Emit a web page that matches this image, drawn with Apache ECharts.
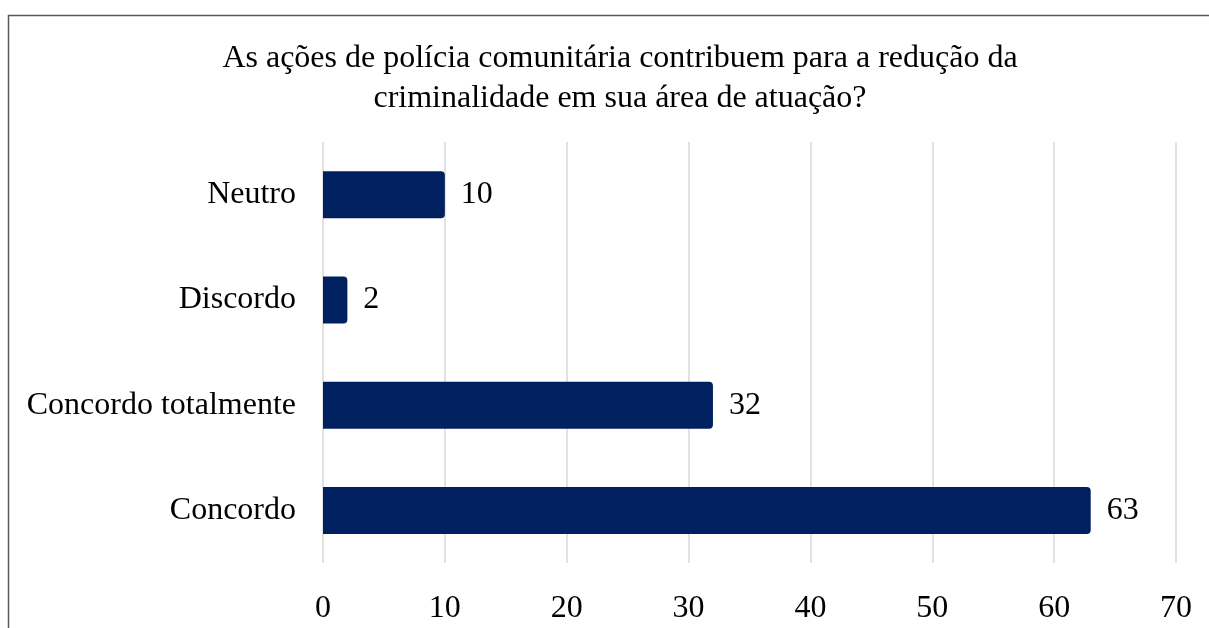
<!DOCTYPE html>
<html><head><meta charset="utf-8">
<script src="https://cdn.jsdelivr.net/npm/echarts@6/dist/echarts.min.js"></script>
<style>html,body{margin:0;padding:0;background:#fff}#c{width:1209px;height:628px}</style>
</head><body><div id="c"></div>
<script>
const categories = ["Concordo", "Concordo totalmente", "Discordo", "Neutro"];
const values = [63, 32, 2, 10];
const xTicks = [0, 10, 20, 30, 40, 50, 60, 70];
const titleText = "As ações de polícia comunitária contribuem para a redução da\ncriminalidade em sua área de atuação?";

const chart = echarts.init(document.getElementById('c'));
const font = '"Liberation Serif", "Times New Roman", serif';
chart.setOption({
  animation: false,
  backgroundColor: '#fff',
  title: {
    text: titleText,
    left: 615, top: 34, textAlign: 'center',
    textStyle: { fontFamily: font, fontSize: 32, fontWeight: 'normal', color: '#000', lineHeight: 40 }
  },
  graphic: [{
    type: 'rect', shape: { x: 8.5, y: 15.5, width: 1300, height: 700 },
    style: { fill: 'none', stroke: '#595959', lineWidth: 1.5 }, silent: true
  }],
  grid: { left: 323, right: 33, top: 142, bottom: 65, containLabel: false },
  xAxis: {
    type: 'value', min: xTicks[0], max: xTicks[xTicks.length - 1], interval: 10,
    axisLine: { show: false }, axisTick: { show: false },
    splitLine: { lineStyle: { color: '#d9d9d9', width: 1.5 } },
    axisLabel: { fontFamily: font, fontSize: 32, color: '#000', margin: 30 }
  },
  yAxis: {
    type: 'category', data: categories,
    axisLine: { show: false }, axisTick: { show: false },
    axisLabel: { fontFamily: font, fontSize: 32, color: '#000', margin: 27 }
  },
  series: [{
    type: 'bar', data: values, barWidth: 47,
    itemStyle: { color: '#00205F', borderRadius: [0, 4, 4, 0] },
    label: { show: true, position: 'right', distance: 16, fontFamily: font, fontSize: 32, color: '#000' }
  }]
});
</script></body></html>
